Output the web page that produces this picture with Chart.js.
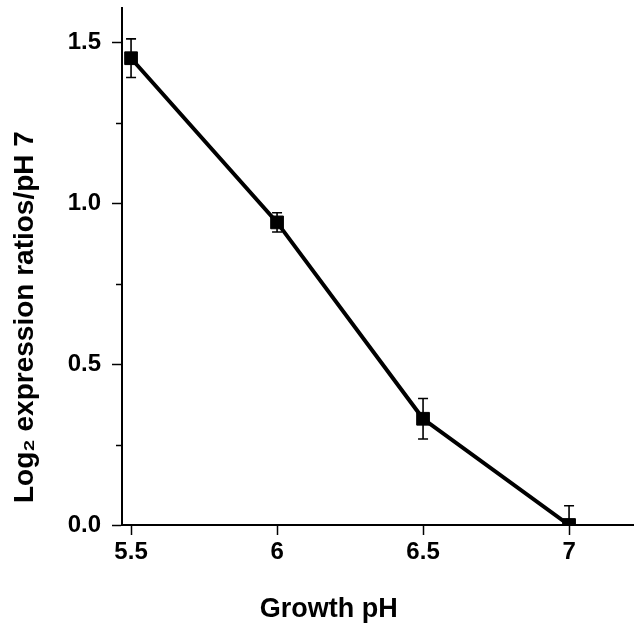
<!DOCTYPE html>
<html>
<head>
<meta charset="utf-8">
<script src="https://cdn.jsdelivr.net/npm/chart.js@4"></script>
<style>
  html, body { margin: 0; padding: 0; background: #fff; }
  #wrap { width: 637px; height: 630px; }
</style>
</head>
<body>
<div id="wrap"><canvas id="chart"></canvas></div>
<script>
const growthPH = [5.5, 6, 6.5, 7];
const log2Ratio = [1.45, 0.94, 0.33, 0.0];
const errors = [0.06, 0.03, 0.063, 0.06];
const xTicks = [5.5, 6, 6.5, 7];
const xTickLabels = ["5.5", "6", "6.5", "7"];
const yTicks = [0, 0.5, 1.0, 1.5];
const yMinorTicks = [0.25, 0.75, 1.25];

const FONT = "'Liberation Sans', Arial, sans-serif";
// trailing spaces push the axis titles off-centre, as in the original
const PAD = "             ";

// error bars + minor ticks, drawn through the scales
const extras = {
  id: "extras",
  afterDatasetsDraw(chart) {
    const { ctx, chartArea, scales } = chart;
    const x = scales.x, y = scales.y;
    ctx.save();
    ctx.beginPath();
    ctx.rect(chartArea.left, chartArea.top - 2, chartArea.right - chartArea.left, chartArea.bottom - chartArea.top + 2);
    ctx.clip();
    ctx.strokeStyle = "#000";
    ctx.lineWidth = 1.6;
    growthPH.forEach((v, i) => {
      const px = x.getPixelForValue(v);
      const top = y.getPixelForValue(log2Ratio[i] + errors[i]);
      const bot = y.getPixelForValue(log2Ratio[i] - errors[i]);
      ctx.beginPath();
      ctx.moveTo(px, top); ctx.lineTo(px, bot);
      ctx.moveTo(px - 5, top); ctx.lineTo(px + 5, top);
      ctx.moveTo(px - 5, bot); ctx.lineTo(px + 5, bot);
      ctx.stroke();
    });
    ctx.restore();

    ctx.save();
    ctx.strokeStyle = "#000";
    ctx.lineWidth = 1.5;
    yMinorTicks.forEach(v => {
      const py = Math.round(y.getPixelForValue(v)) + 0.5;
      ctx.beginPath();
      ctx.moveTo(chartArea.left - 6, py);
      ctx.lineTo(chartArea.left, py);
      ctx.stroke();
    });
    ctx.restore();
  }
};

new Chart(document.getElementById("chart"), {
  type: "line",
  data: {
    datasets: [{
      data: growthPH.map((v, i) => ({ x: v, y: log2Ratio[i] })),
      borderColor: "#000",
      borderWidth: 4,
      pointStyle: "rect",
      pointRadius: 9,
      pointBackgroundColor: "#000",
      pointBorderColor: "#000",
      pointBorderWidth: 1,
      tension: 0,
      clip: 0
    }]
  },
  options: {
    responsive: true,
    maintainAspectRatio: false,
    animation: false,
    layout: { autoPadding: false, padding: { top: 8, right: 4, left: 4, bottom: 0 } },
    plugins: { legend: { display: false }, tooltip: { enabled: false } },
    scales: {
      x: {
        type: "linear",
        min: 5.469,
        max: 7.219,
        afterBuildTicks: s => { s.ticks = xTicks.map(v => ({ value: v })); },
        afterFit: s => { s.height = 105; s.paddingLeft = 0; s.paddingRight = 0; },
        border: { display: true, color: "#000", width: 2 },
        grid: { drawOnChartArea: false, drawTicks: true, tickLength: 10, tickColor: "#000", tickWidth: 1.5 },
        ticks: {
          color: "#000",
          padding: 3,
          font: { family: FONT, size: 24, weight: "bold" },
          callback: v => xTickLabels[xTicks.indexOf(v)]
        },
        title: {
          display: true,
          text: "Growth pH" + PAD,
          color: "#000",
          padding: { top: 13 },
          font: { family: FONT, size: 27, weight: "bold" }
        }
      },
      y: {
        type: "linear",
        min: 0,
        max: 1.606,
        afterBuildTicks: s => { s.ticks = yTicks.map(v => ({ value: v })); },
        afterFit: s => { s.width = 118; s.paddingTop = 0; s.paddingBottom = 0; },
        border: { display: true, color: "#000", width: 2 },
        grid: { drawOnChartArea: false, drawTicks: true, tickLength: 10, tickColor: "#000", tickWidth: 1.5 },
        ticks: {
          color: "#000",
          padding: 11,
          font: { family: FONT, size: 24, weight: "bold" },
          callback: v => v.toFixed(1)
        },
        title: {
          display: true,
          text: "Log\u2082 expression ratios/pH 7" + PAD,
          color: "#000",
          padding: { top: 4, bottom: 0 },
          font: { family: FONT, size: 28, weight: "bold" }
        }
      }
    }
  },
  plugins: [extras]
});
</script>
</body>
</html>
